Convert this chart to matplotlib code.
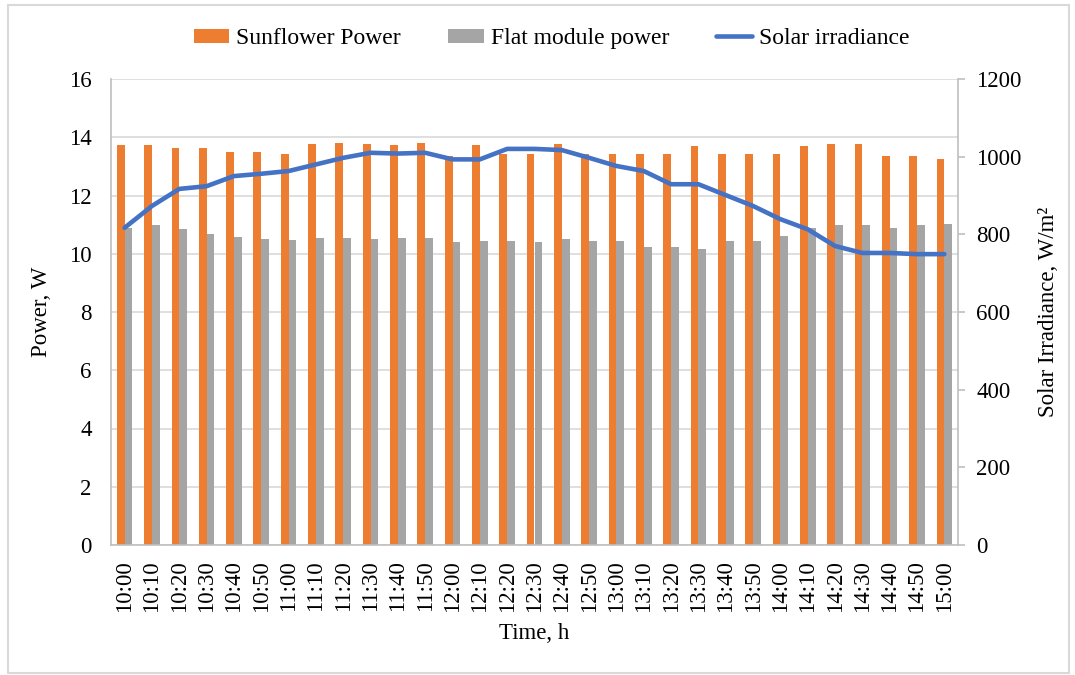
import matplotlib
matplotlib.use("Agg")
import matplotlib.pyplot as plt
import matplotlib.patches as mpatches
import numpy as np

plt.rcParams["font.family"] = ["Liberation Serif", "DejaVu Serif"]
plt.rcParams["font.size"] = 16.5

times = [
    "10:00", "10:10", "10:20", "10:30", "10:40", "10:50", "11:00", "11:10",
    "11:20", "11:30", "11:40", "11:50", "12:00", "12:10", "12:20", "12:30",
    "12:40", "12:50", "13:00", "13:10", "13:20", "13:30", "13:40", "13:50",
    "14:00", "14:10", "14:20", "14:30", "14:40", "14:50", "15:00",
]
sunflower_power = [
    13.73, 13.73, 13.63, 13.63, 13.50, 13.50, 13.41, 13.77, 13.80, 13.77,
    13.73, 13.80, 13.37, 13.73, 13.41, 13.41, 13.76, 13.43, 13.43, 13.43,
    13.41, 13.70, 13.43, 13.43, 13.41, 13.70, 13.76, 13.76, 13.34, 13.34,
    13.26,
]
flat_power = [
    10.90, 10.98, 10.84, 10.67, 10.58, 10.51, 10.48, 10.55, 10.55, 10.51,
    10.55, 10.55, 10.41, 10.44, 10.44, 10.41, 10.51, 10.44, 10.44, 10.22,
    10.22, 10.18, 10.44, 10.44, 10.60, 10.90, 10.98, 10.98, 10.90, 10.98,
    11.01,
]
irradiance = [
    817, 873, 917, 924, 950, 956, 963, 980, 997, 1010, 1008, 1010, 993, 993,
    1020, 1020, 1017, 997, 976, 963, 929, 929, 901, 873, 839, 813, 770, 752,
    752, 749, 749,
]

orange = "#ED7D31"
grey = "#A5A5A5"
blue = "#4472C4"
grid_col = "#D9D9D9"

fig = plt.figure(figsize=(10.75, 6.75), dpi=100)
# light chart border
fig.patches.append(mpatches.Rectangle(
    (8 / 1075, 2 / 675), 1061 / 1075, 668 / 675, transform=fig.transFigure,
    fill=False, edgecolor=grid_col, linewidth=1.5))

ax = fig.add_axes([111 / 1075, 130 / 675, 847 / 1075, 466 / 675])
ax2 = ax.twinx()

x = np.arange(len(times))
w = 0.285
ax.bar(x - w / 2, sunflower_power, width=w, color=orange, zorder=2,
       label="Sunflower Power")
ax.bar(x + w / 2, flat_power, width=w, color=grey, zorder=2,
       label="Flat module power")
ax2.plot(x, irradiance, color=blue, linewidth=3.3, solid_capstyle="round",
         label="Solar irradiance")

ax.set_xlim(-0.5, len(times) - 0.5)
ax.set_ylim(0, 16)
ax.set_yticks(np.arange(0, 17, 2))
ax2.set_ylim(0, 1200)
ax2.set_yticks(np.arange(0, 1201, 200))

ax.grid(axis="y", color=grid_col, linewidth=1.2, zorder=0)
ax.set_axisbelow(True)

ax.set_xticks(x)
ax.set_xticklabels(times, rotation=90)
ax.tick_params(axis="x", length=0, pad=11)
ax.tick_params(axis="y", length=0, pad=14)
ax2.tick_params(axis="y", length=5, width=1.2, color="#BFBFBF", pad=8)

for a in (ax, ax2):
    for s in a.spines.values():
        s.set_visible(False)
for side in ("left", "bottom"):
    ax.spines[side].set_visible(True)
    ax.spines[side].set_color("#BFBFBF")
    ax.spines[side].set_linewidth(1.2)
ax2.spines["right"].set_visible(True)
ax2.spines["right"].set_color("#BFBFBF")
ax2.spines["right"].set_linewidth(1.2)

ax.set_xlabel("Time, h", labelpad=8)
ax.set_ylabel("Power, W", labelpad=12)
ax2.set_ylabel("Solar Irradiance, W/m²", labelpad=12)

h1, l1 = ax.get_legend_handles_labels()
h2, l2 = ax2.get_legend_handles_labels()
fig.legend(h1 + h2, l1 + l2, loc="upper center", bbox_to_anchor=(0.513, 0.99),
           ncol=3, frameon=False, fontsize=17, handlelength=1.5,
           handleheight=0.55, handletextpad=0.3, columnspacing=2.0)

fig.savefig("out.png", dpi=100)
